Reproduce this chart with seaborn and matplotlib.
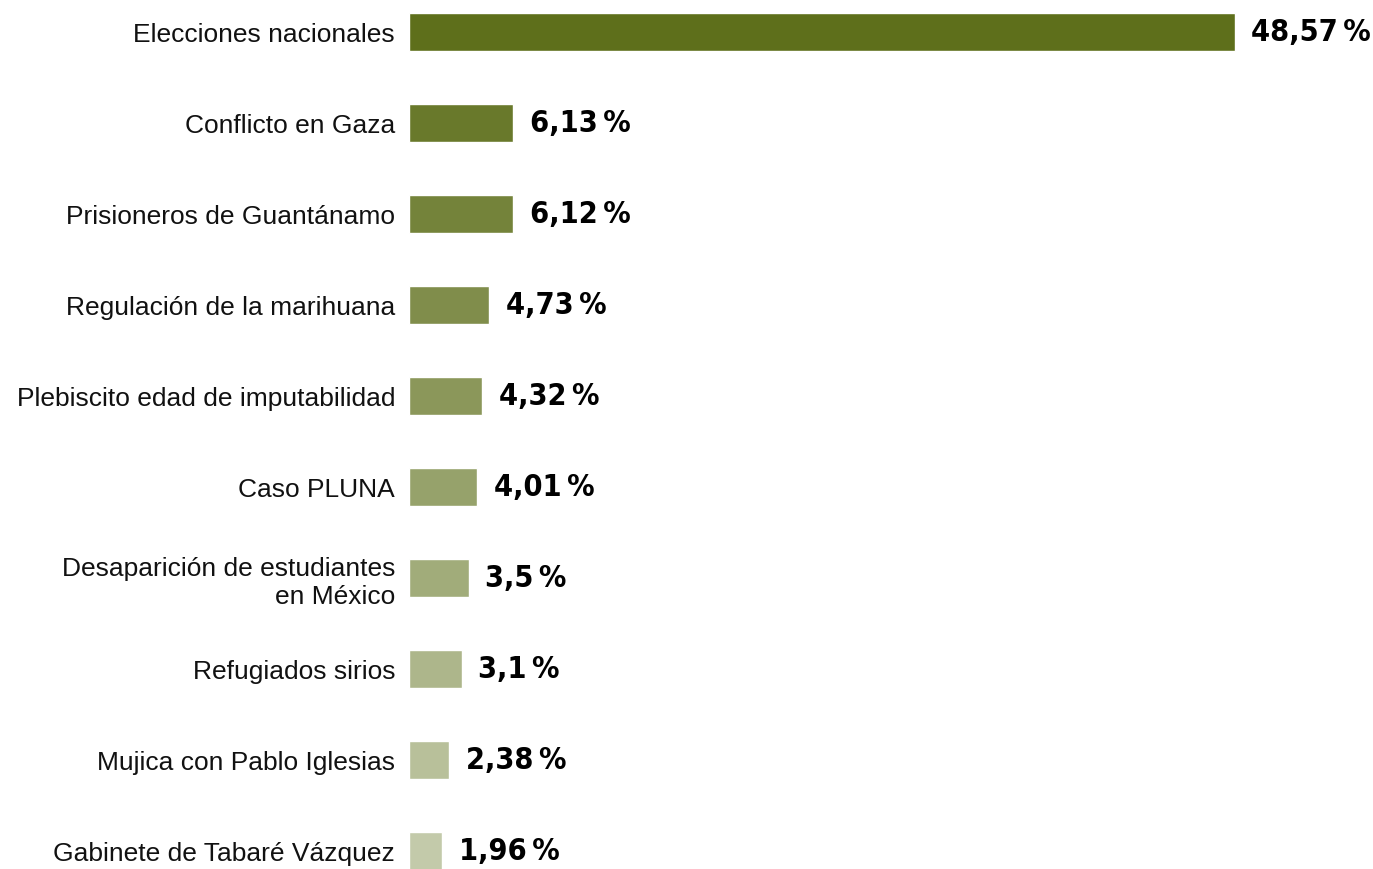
import pandas as pd
import matplotlib.pyplot as plt
import seaborn as sns

# Datos: temas más mencionados (%)
temas = [
    "Elecciones nacionales",
    "Conflicto en Gaza",
    "Prisioneros de Guantánamo",
    "Regulación de la marihuana",
    "Plebiscito edad de imputabilidad",
    "Caso PLUNA",
    "Desaparición de estudiantes\nen México",
    "Refugiados sirios",
    "Mujica con Pablo Iglesias",
    "Gabinete de Tabaré Vázquez",
]
porcentajes = [48.57, 6.13, 6.12, 4.73, 4.32, 4.01, 3.5, 3.1, 2.38, 1.96]
etiquetas = ["48,57\u2009%", "6,13\u2009%", "6,12\u2009%", "4,73\u2009%", "4,32\u2009%",
             "4,01\u2009%", "3,5\u2009%", "3,1\u2009%", "2,38\u2009%", "1,96\u2009%"]

df = pd.DataFrame({"Tema": temas, "Porcentaje": porcentajes})

sns.set_style("white")
plt.rcParams["font.family"] = ["Liberation Sans", "DejaVu Sans"]

colores = sns.blend_palette(["#5e6f1b", "#c3caaa"], len(temas))

fig = plt.figure(figsize=(13.73, 8.70), dpi=100)
ax = fig.add_axes([409 / 1373, 0, 1 - 409 / 1373, 1])

sns.barplot(data=df, x="Porcentaje", y="Tema", hue="Tema", palette=colores,
            saturation=1, legend=False, width=0.42, ax=ax)

for cont, lab in zip(ax.containers, etiquetas):
    ax.bar_label(cont, labels=[lab], padding=12, fontsize=22, fontweight="bold",
                 family="DejaVu Sans", fontstretch="condensed", color="black")

ax.set_xlim(0, 56.7)
ax.set_ylim(9.2, -0.36)
ax.set_xlabel("")
ax.set_ylabel("")
ax.set_xticks([])
ax.tick_params(axis="y", length=0, pad=10, labelsize=19, labelcolor="#111111")
for lbl in ax.get_yticklabels():
    lbl.set_horizontalalignment("right")
sns.despine(ax=ax, left=True, bottom=True)

fig.savefig("out.png", dpi=100)
